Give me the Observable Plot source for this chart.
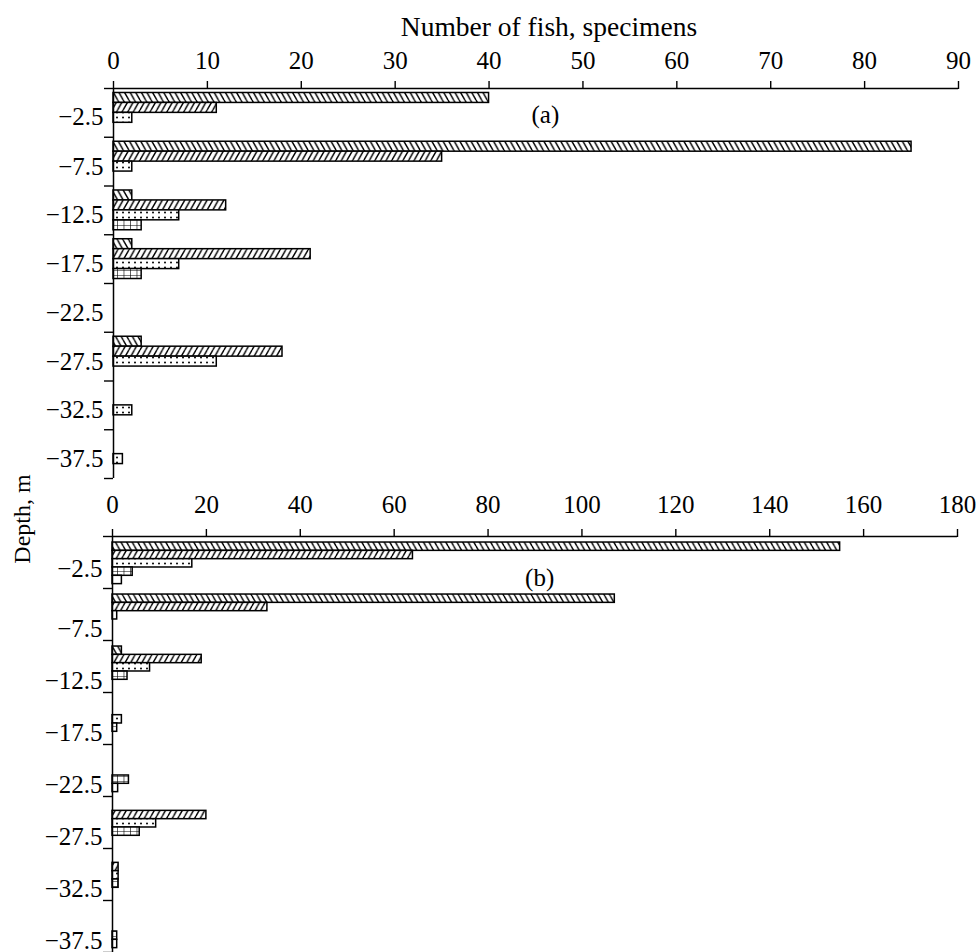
<!DOCTYPE html>
<html>
<head>
<meta charset="utf-8">
<script src="https://cdn.jsdelivr.net/npm/d3@7"></script>
<script src="https://cdn.jsdelivr.net/npm/@observablehq/plot@0.6"></script>
<style>
  html, body { margin: 0; padding: 0; background: #fff; overflow: hidden; }
  #wrap { position: relative; width: 980px; height: 952px; font-family: "Liberation Serif", "Times New Roman", serif; color: #000; }
  #title { position: absolute; left: 549px; top: 11px; transform: translateX(-50%); font-size: 27.5px; white-space: nowrap; }
  #ylab { position: absolute; left: 22px; top: 519px; transform: translate(-50%, -50%) rotate(-90deg); font-size: 24px; white-space: nowrap; }
  #pa, #pb { position: absolute; left: 0; }
  #pa { top: 0; }
  #pb { top: 486px; }
  svg { display: block; overflow: visible; }
  svg text { font-family: "Liberation Serif", "Times New Roman", serif !important; }
</style>
</head>
<body>
<div id="wrap">
  <div id="pa"></div>
  <div id="pb"></div>
  <div id="title">Number of fish, specimens</div>
  <div id="ylab">Depth, m</div>
</div>
<script>
// ---------- data ----------
const depths = [-2.5, -7.5, -12.5, -17.5, -22.5, -27.5, -32.5, -37.5];
const depthBounds = [0, -5, -10, -15, -20, -25, -30, -35, -40];

// Panel (a): four series (hatch \\\, hatch ///, dots, grid)
const a1 = [40, 85, 2, 2, 0, 3, 0, 0];
const a2 = [11, 35, 12, 21, 0, 18, 0, 0];
const a3 = [2, 2, 7, 7, 0, 11, 2, 1];
const a4 = [0, 0, 3, 3, 0, 0, 0, 0];

// Panel (b): five series (hatch \\\, hatch ///, dots, grid, empty)
const b1 = [155, 107, 2, 0, 0, 0, 0, 0];
const b2 = [64, 33, 19, 0, 0, 20, 1.3, 0];
const b3 = [17, 1, 8, 2, 0, 9.3, 1.3, 0];
const b4 = [4.3, 0, 3.2, 1, 3.5, 5.8, 1.3, 1];
const b5 = [2, 0, 0, 0, 1.2, 0, 0, 1];

const ticksA = [0, 10, 20, 30, 40, 50, 60, 70, 80, 90];
const ticksB = [0, 20, 40, 60, 80, 100, 120, 140, 160, 180];
const panelLabels = ["(a)", "(b)"];

// ---------- helpers ----------
const patterns = ["pBack", "pFwd", "pDots", "pGrid", "pEmpty"];
const fmtDepth = d => d.toFixed(1).replace("-", "\u2212");
const FONT = '"Liberation Serif", "Times New Roman", serif';

function rowsOf(seriesList) {
  const rows = [];
  seriesList.forEach((vals, s) => {
    vals.forEach((v, j) => { if (v > 0) rows.push({depth: depths[j], value: v, series: s}); });
  });
  return rows;
}

function panel({series, xmax, xticks, xPad, pad, h, label, labelX, labelY, firstDy, restDy, height, marginTop, marginBottom, marginLeft, marginRight}) {
  const rows = rowsOf(series);
  const bars = series.map((_, s) => Plot.rect(rows.filter(r => r.series === s), {
    x1: 0,
    x2: "value",
    y1: d => d.depth + 2.5 - pad - d.series * h,
    y2: d => d.depth + 2.5 - pad - (d.series + 1) * h,
    fill: `url(#${patterns[s]})`,
    stroke: "black",
    strokeWidth: 1.5
  }));
  return Plot.plot({
    width: 980,
    height,
    marginTop, marginBottom, marginLeft, marginRight,
    style: {fontFamily: FONT, fontSize: "25px", color: "black", background: "transparent", overflow: "visible"},
    x: {domain: [0, xmax]},
    y: {domain: [-40, 0]},
    marks: [
      ...bars,
      Plot.axisX({anchor: "top", ticks: xticks, tickSize: 8, tickPadding: xPad, tickFormat: d => String(d), label: null, strokeWidth: 1.4, fontFamily: FONT, fontSize: 25}),
      Plot.axisY({anchor: "left", ticks: depthBounds, tickSize: 9, tickFormat: () => "", label: null, strokeWidth: 1.4}),
      Plot.axisY({anchor: "left", ticks: depths.slice(0, 1), tickSize: 0, tickPadding: 10, tickFormat: fmtDepth, label: null, dy: firstDy, fontFamily: FONT, fontSize: 25}),
      Plot.axisY({anchor: "left", ticks: depths.slice(1), tickSize: 0, tickPadding: 10, tickFormat: fmtDepth, label: null, dy: restDy, fontFamily: FONT, fontSize: 25}),
      Plot.ruleY([0], {stroke: "black", strokeWidth: 1.5}),
      Plot.ruleX([0], {y1: 0, y2: -40, stroke: "black", strokeWidth: 1.5}),
      Plot.text([label], {x: labelX, y: labelY, text: d => d, fontSize: 25, textAnchor: "middle", fontFamily: FONT})
    ]
  });
}

const svgA = panel({series: [a1, a2, a3, a4], xmax: 90, xticks: ticksA, xPad: 12, pad: 0.46, h: 1.02,
  label: panelLabels[0], labelX: 46, labelY: -2.7, firstDy: 4, restDy: 5,
  height: 486, marginTop: 88, marginBottom: 8, marginLeft: 113, marginRight: 22});
const svgB = panel({series: [b1, b2, b3, b4, b5], xmax: 180, xticks: ticksB, xPad: 16, pad: 0.58, h: 0.8,
  label: panelLabels[1], labelX: 91, labelY: -4.0, firstDy: 6, restDy: 14,
  height: 467, marginTop: 50, marginBottom: 1, marginLeft: 112, marginRight: 23});

// ---------- patterns ----------
const defs = `
<defs>
  <pattern id="pBack" patternUnits="userSpaceOnUse" width="5.6" height="10">
    <rect width="5.6" height="10" fill="white"/>
    <path d="M0,0 L5.6,10 M-5.6,0 L0,10 M5.6,0 L11.2,10" stroke="black" stroke-width="1.4"/>
  </pattern>
  <pattern id="pFwd" patternUnits="userSpaceOnUse" width="5.6" height="10">
    <rect width="5.6" height="10" fill="white"/>
    <path d="M0,10 L5.6,0 M-5.6,10 L0,0 M5.6,10 L11.2,0" stroke="black" stroke-width="1.4"/>
  </pattern>
  <pattern id="pDots" patternUnits="userSpaceOnUse" width="6" height="5">
    <rect width="6" height="5" fill="white"/>
    <circle cx="3" cy="2.5" r="1" fill="black"/>
  </pattern>
  <pattern id="pGrid" patternUnits="userSpaceOnUse" width="6.5" height="5">
    <rect width="6.5" height="5" fill="white"/>
    <path d="M0,0 L0,5 M0,0 L6.5,0" stroke="black" stroke-width="1.2"/>
  </pattern>
  <pattern id="pEmpty" patternUnits="userSpaceOnUse" width="6" height="6">
    <rect width="6" height="6" fill="white"/>
  </pattern>
</defs>`;
svgA.insertAdjacentHTML("afterbegin", defs);

document.getElementById("pa").appendChild(svgA);
document.getElementById("pb").appendChild(svgB);
</script>
</body>
</html>
